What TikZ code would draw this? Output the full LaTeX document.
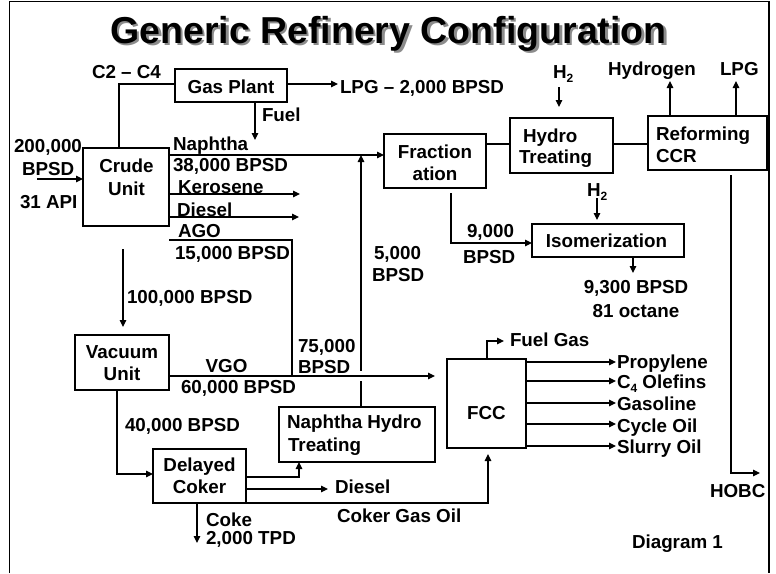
\documentclass[tikz,border=0pt]{standalone}
\usepackage{fontspec}
\setmainfont{Liberation Sans}
\usetikzlibrary{arrows.meta}
\newcommand\fs{\fontsize{18.8}{23}\selectfont\bfseries}
\newcommand\mysub[1]{\raisebox{-4pt}{\fontsize{12}{12}\selectfont #1}}
\newcommand\shadowtext[1]{\rlap{\hspace{2.5pt}\raisebox{-2.5pt}{\textcolor{black!45}{#1}}}#1}
\begin{document}
\begin{tikzpicture}[x=1pt,y=-1pt, line width=1.2pt,
  box/.style={draw, inner sep=0pt, outer sep=0pt},
  txt/.style={inner sep=0pt, outer sep=0pt, font=\fs},
  arr/.style={-{Triangle[length=7pt,width=6.5pt]}}]
\useasboundingbox (0,0) rectangle (776,573);
% frame
\draw[line width=1.8pt] (9.5,573) -- (9.5,1.5) -- (769,1.5) -- (769,573);
% title
\node[txt, anchor=base, font=\fontsize{37.5}{40}\selectfont\bfseries] (title) at (388.5,43) {\shadowtext{Generic Refinery Configuration}};
% boxes
\node[box, minimum width=112pt, minimum height=33pt] (gas) at (231,85.5) {};
\node[box, minimum width=86pt, minimum height=78pt] (crude) at (126,187) {};
\node[box, minimum width=94pt, minimum height=55pt] (vac) at (122,362.5) {};
\node[box, minimum width=93pt, minimum height=54pt] (coker) at (199.5,476) {};
\node[box, minimum width=156pt, minimum height=55pt] (nht) at (357,434.5) {};
\node[box, minimum width=79pt, minimum height=89pt] (fcc) at (486.5,403.5) {};
\node[box, minimum width=102pt, minimum height=54pt] (frac) at (435,161) {};
\node[box, minimum width=103pt, minimum height=55pt] (hydro) at (561.5,145.5) {};
\node[box, minimum width=119pt, minimum height=54pt] (reform) at (707.5,143) {};
\node[box, minimum width=152pt, minimum height=33pt] (iso) at (608,240.5) {};
% box texts
\node[txt, anchor=base] (gasT) at (231,93) {Gas Plant};
\node[txt, anchor=base] (crudeT1) at (126.5,172) {Crude};
\node[txt, anchor=base] (crudeT2) at (126.5,195) {Unit};
\node[txt, anchor=base] (vacT1) at (122,358) {Vacuum};
\node[txt, anchor=base] (vacT2) at (122,380) {Unit};
\node[txt, anchor=base] (cokerT1) at (199.5,471) {Delayed};
\node[txt, anchor=base] (cokerT2) at (199.5,493) {Coker};
\node[txt, anchor=base west] (nhtT1) at (287,428) {Naphtha Hydro};
\node[txt, anchor=base west] (nhtT2) at (288,451) {Treating};
\node[txt, anchor=base] (fccT) at (486.5,419) {FCC};
\node[txt, anchor=base] (fracT1) at (435,158) {Fraction};
\node[txt, anchor=base] (fracT2) at (435,180) {ation};
\node[txt, anchor=base west] (hydroT1) at (523,142) {Hydro};
\node[txt, anchor=base west] (hydroT2) at (519,163) {Treating};
\node[txt, anchor=base west] (reformT1) at (656,140) {Reforming};
\node[txt, anchor=base west] (reformT2) at (656,162) {CCR};
\node[txt, anchor=base] (isoT) at (606.5,247) {Isomerization};
% labels
\node[txt, anchor=base west] (c2c4) at (92,78) {C2 – C4};
\node[txt, anchor=base west] (lpgT) at (340,93) {LPG – 2,000 BPSD};
\node[txt, anchor=base west] (fuelT) at (262,121) {Fuel};
\node[txt, anchor=base west] (napT1) at (173,150) {Naphtha};
\node[txt, anchor=base west] (napT2) at (173,171) {38,000 BPSD};
\node[txt, anchor=base west] (keroT) at (178,193) {Kerosene};
\node[txt, anchor=base west] (dieselT) at (177,216) {Diesel};
\node[txt, anchor=base west] (agoT1) at (178,237) {AGO};
\node[txt, anchor=base west] (agoT2) at (175,259) {15,000 BPSD};
\node[txt, anchor=base west] (cvT) at (127,303) {100,000 BPSD};
\node[txt, anchor=base west] (feedT1) at (14,152) {200,000};
\node[txt, anchor=base west] (feedT2) at (22,175) {BPSD};
\node[txt, anchor=base west] (feedT3) at (20,208) {31 API};
\node[txt, anchor=base] (vgoT1) at (226.5,372) {VGO};
\node[txt, anchor=base west] (vgoT2) at (181,393) {60,000 BPSD};
\node[txt, anchor=base west] (upT1) at (298,352) {75,000};
\node[txt, anchor=base west] (upT2) at (298,373) {BPSD};
\node[txt, anchor=base west] (upT3) at (374,259) {5,000};
\node[txt, anchor=base west] (upT4) at (372,281) {BPSD};
\node[txt, anchor=base west] (vcT) at (125,431) {40,000 BPSD};
\node[txt, anchor=base west] (cdT) at (335,493) {Diesel};
\node[txt, anchor=base west] (cgoT) at (337,522) {Coker Gas Oil};
\node[txt, anchor=base west] (cokeT1) at (206,526) {Coke};
\node[txt, anchor=base west] (cokeT2) at (206,544) {2,000 TPD};
\node[txt, anchor=base west] (h2aT) at (553,78) {H\mysub{2}};
\node[txt, anchor=base west] (hyT) at (608,75) {Hydrogen};
\node[txt, anchor=base west] (lpg2T) at (720,75) {LPG};
\node[txt, anchor=base west] (h2bT) at (587,196) {H\mysub{2}};
\node[txt, anchor=base west] (fiT1) at (467,237) {9,000};
\node[txt, anchor=base west] (fiT2) at (463,263) {BPSD};
\node[txt, anchor=base] (isoOT1) at (636,293) {9,300 BPSD};
\node[txt, anchor=base] (isoOT2) at (636,317) {81 octane};
\node[txt, anchor=base west] (fgT) at (510,346) {Fuel Gas};
\node[txt, anchor=base west] (o1T) at (617,368) {Propylene};
\node[txt, anchor=base west] (o2T) at (617,388) {C\mysub{4} Olefins};
\node[txt, anchor=base west] (o3T) at (617,410) {Gasoline};
\node[txt, anchor=base west] (o4T) at (617,432) {Cycle Oil};
\node[txt, anchor=base west] (o5T) at (617,453) {Slurry Oil};
\node[txt, anchor=base west] (hobcT) at (710,497) {HOBC};
\node[txt, anchor=base west] (diagT) at (632,548) {Diagram 1};
% coordinates
\coordinate (gbend) at (119,84);
\coordinate (lpgend) at (338,84);
\coordinate (fuelend) at (255,140);
\coordinate (napy) at (200,155);
\coordinate (keroend) at (300,194);
\coordinate (dieselend) at (299,217);
\coordinate (agobend) at (292,240);
\coordinate (vgoy) at (300,376);
\coordinate (cvs) at (123,249);
\coordinate (cve) at (123,327);
\coordinate (feed) at (37,179);
\coordinate (vgoend) at (435,376);
\coordinate (up) at (361,155);
\coordinate (gapA) at (361,371);
\coordinate (gapB) at (361,381);
\coordinate (vcb) at (117,474);
\coordinate (cnb) at (299,477);
\coordinate (cdend) at (328,489);
\coordinate (cgob) at (488,503);
\coordinate (cgoend) at (488,454);
\coordinate (cokeend) at (197,543);
\coordinate (fgb) at (487,341);
\coordinate (fgend) at (504,341);
\coordinate (lineA) at (600,144);
\coordinate (h2as) at (559,87);
\coordinate (h2ae) at (559,107);
\coordinate (hyend) at (670,81);
\coordinate (lpg2end) at (736,81);
\coordinate (hobcs) at (731,175);
\coordinate (hobcb) at (731,473);
\coordinate (hobcend) at (760,473);
\coordinate (fis) at (451,193);
\coordinate (fib) at (451,243);
\coordinate (h2bs) at (597,198);
\coordinate (h2be) at (597,220);
\coordinate (isoend) at (633,273);
% connectors
\draw (gbend |- crude.north) -- (gbend) -- (gbend -| gas.west);
\draw[arr] (lpgend -| gas.east) -- (lpgend);
\draw[arr] (fuelend |- gas.south) -- (fuelend);
\draw[arr] (napy -| crude.east) -- (napy -| frac.west);
\draw[arr] (keroend -| crude.east) -- (keroend);
\draw[arr] (dieselend -| crude.east) -- (dieselend);
\draw (agobend -| crude.east) -- (agobend) -- (agobend |- vgoy);
\draw[arr] (cvs) -- (cve);
\draw[arr] (feed) -- (feed -| crude.west);
\draw[arr] (up |- nht.north) -- (up);
\draw[white, line width=3pt] (gapA) -- (gapB);
\draw[arr] (vgoend -| vac.east) -- (vgoend);
\draw[arr] (vcb |- vac.south) -- (vcb) -- (vcb -| coker.west);
\draw[arr] (cnb -| coker.east) -- (cnb) -- (cnb |- nht.south);
\draw[arr] (cdend -| coker.east) -- (cdend);
\draw[arr] (cgob -| coker.east) -- (cgob) -- (cgoend);
\draw[arr] (cokeend |- coker.south) -- (cokeend);
\draw[arr] (fgb |- fcc.north) -- (fgb) -- (fgend);
\foreach \i/\y in {1/362,2/381,3/403,4/424,5/446}{
  \coordinate (oe\i) at (616,\y);
  \draw[arr] (oe\i -| fcc.east) -- (oe\i);
}
\draw (lineA -| frac.east) -- (lineA -| hydro.west);
\draw (lineA -| hydro.east) -- (lineA -| reform.west);
\draw[arr] (h2as) -- (h2ae);
\draw[arr] (hyend |- reform.north) -- (hyend);
\draw[arr] (lpg2end |- reform.north) -- (lpg2end);
\draw[arr] (hobcs) -- (hobcb) -- (hobcend);
\draw[arr] (fis) -- (fib) -- (fib -| iso.west);
\draw[arr] (h2bs) -- (h2be);
\draw[arr] (isoend |- iso.south) -- (isoend);
\end{tikzpicture}
\end{document}
